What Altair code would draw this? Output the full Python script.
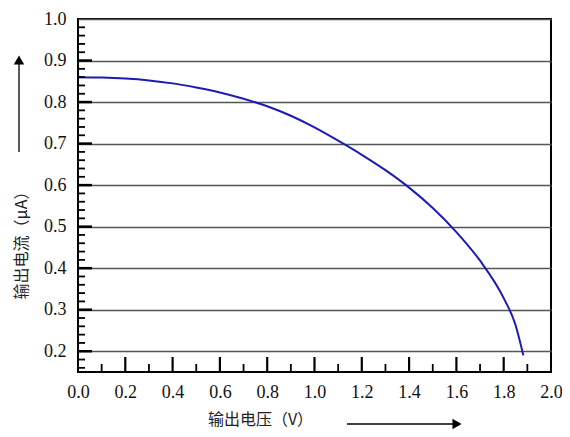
import altair as alt
import pandas as pd

# curve data
voltage = [0.0, 0.1, 0.2, 0.3, 0.4, 0.5, 0.6, 0.7, 0.8, 0.9, 1.0, 1.1, 1.2, 1.3, 1.4, 1.5, 1.6, 1.7, 1.8, 1.85, 1.883]
current = [0.860, 0.859, 0.8565, 0.852, 0.845, 0.835, 0.823, 0.808, 0.790, 0.767, 0.739, 0.707, 0.673, 0.636, 0.594, 0.545, 0.487, 0.418, 0.328, 0.263, 0.190]

# axis tick values
x_labels = [0.0, 0.2, 0.4, 0.6, 0.8, 1.0, 1.2, 1.4, 1.6, 1.8, 2.0]
x_major_ticks = [0.2, 0.4, 0.6, 0.8, 1.0, 1.2, 1.4, 1.6, 1.8]
x_minor_ticks = [0.1, 0.3, 0.5, 0.7, 0.9, 1.1, 1.3, 1.5, 1.7, 1.9]
y_labels = [0.2, 0.3, 0.4, 0.5, 0.6, 0.7, 0.8, 0.9, 1.0]
y_major_ticks = [0.2, 0.3, 0.4, 0.5, 0.6, 0.7, 0.8, 0.9]
y_minor_ticks = [0.16, 0.18, 0.22, 0.24, 0.26, 0.28, 0.32, 0.34, 0.36, 0.38,
                 0.42, 0.44, 0.46, 0.48, 0.52, 0.54, 0.56, 0.58, 0.62, 0.64, 0.66, 0.68,
                 0.72, 0.74, 0.76, 0.78, 0.82, 0.84, 0.86, 0.88, 0.92, 0.94, 0.96, 0.98]

W, H = 473, 353
xs = alt.Scale(domain=[0, 2.0], nice=False, zero=False)
ys = alt.Scale(domain=[0.15, 1.0], nice=False, zero=False)

serif = "Liberation Serif"
cjk = "Noto Sans CJK SC"

df = pd.DataFrame({"v": voltage, "i": current})

curve = alt.Chart(df).mark_line(color="#1c1cb4", strokeWidth=2, interpolate="monotone").encode(
    x=alt.X("v:Q", scale=xs, axis=alt.Axis(
        values=x_labels, format=".1f", grid=False, ticks=False, domain=False,
        labelFlush=False, labelOverlap=False,
        labelFont=serif, labelFontSize=18, labelColor="#111", labelPadding=11,
        title="输出电压（V）", titleFont=cjk, titleFontSize=16, titleFontWeight="normal",
        titleColor="#222", titleX=182, titleY=47, titleBaseline="middle")),
    y=alt.Y("i:Q", scale=ys, axis=alt.Axis(
        values=y_labels, format=".1f", grid=True, gridColor="#555", gridWidth=1.5,
        ticks=False, domain=False, labelFlush=False, labelOverlap=False,
        labelFont=serif, labelFontSize=18, labelColor="#111", labelPadding=12,
        title="输出电流（μA）", titleFont=cjk, titleFontSize=16, titleFontWeight="normal",
        titleColor="#222", titleX=-57, titleY=222, titleBaseline="middle")),
)

ymaj = alt.Chart(pd.DataFrame({"y": y_major_ticks})).mark_rule(color="black", strokeWidth=2.5).encode(
    y=alt.Y("y:Q", scale=ys), x=alt.value(0), x2=alt.value(14))
ymin = alt.Chart(pd.DataFrame({"y": y_minor_ticks})).mark_rule(color="black", strokeWidth=1.8).encode(
    y=alt.Y("y:Q", scale=ys), x=alt.value(0), x2=alt.value(7))
xmaj = alt.Chart(pd.DataFrame({"x": x_major_ticks})).mark_rule(color="black", strokeWidth=2.2).encode(
    x=alt.X("x:Q", scale=xs), y=alt.value(H), y2=alt.value(H - 15))
xmin = alt.Chart(pd.DataFrame({"x": x_minor_ticks})).mark_rule(color="black", strokeWidth=1.8).encode(
    x=alt.X("x:Q", scale=xs), y=alt.value(H), y2=alt.value(H - 8))

# arrows next to axis titles
xarrow = alt.Chart(pd.DataFrame({"a": [0]})).mark_rule(color="black", strokeWidth=1.3).encode(
    x=alt.value(269), x2=alt.value(376), y=alt.value(405))
xhead = alt.Chart(pd.DataFrame({"a": [0]})).mark_point(shape="triangle-right", filled=True, color="black", size=110, opacity=1).encode(
    x=alt.value(379), y=alt.value(405))
yarrow = alt.Chart(pd.DataFrame({"a": [0]})).mark_rule(color="black", strokeWidth=1.3).encode(
    x=alt.value(-59), y=alt.value(133), y2=alt.value(44))
yhead = alt.Chart(pd.DataFrame({"a": [0]})).mark_point(shape="triangle-up", filled=True, color="black", size=110, opacity=1).encode(
    x=alt.value(-59), y=alt.value(41))

chart = alt.layer(curve, ymaj, ymin, xmaj, xmin, xarrow, xhead, yarrow, yhead).properties(
    width=W, height=H,
    autosize=alt.AutoSizeParams(type="none"),
    padding={"left": 70, "top": 11, "right": 11, "bottom": 57},
    background="white",
).configure_view(stroke="black", strokeWidth=2)

chart.save("out.html", embed_options={"renderer": "svg", "actions": False})
